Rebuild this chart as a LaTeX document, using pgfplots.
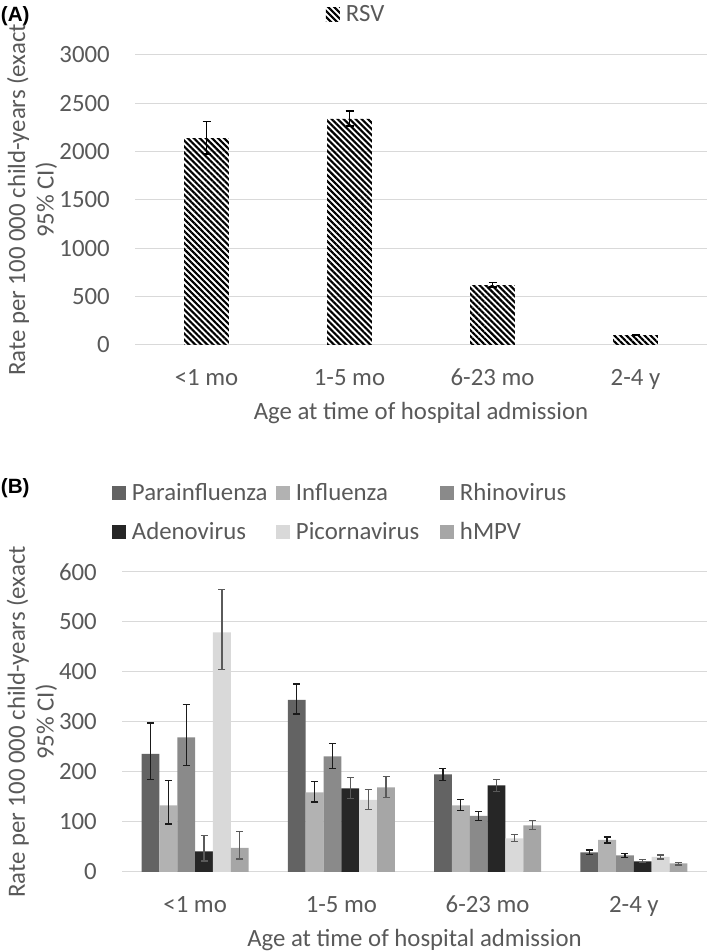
\documentclass[border=0pt]{standalone}
\usepackage{pgfplots}
\pgfplotsset{compat=1.18}
\usepackage{pgfplotstable}
\usepackage{fontspec}
\setmainfont{Carlito}
\newfontfamily\arialfont{Liberation Sans}
\usetikzlibrary{patterns.meta}

\definecolor{txt}{HTML}{595959}
\definecolor{gridc}{HTML}{D9D9D9}
\definecolor{cPara}{HTML}{636363}
\definecolor{cInfl}{HTML}{B2B2B2}
\definecolor{cRhin}{HTML}{8A8A8A}
\definecolor{cAden}{HTML}{262626}
\definecolor{cPico}{HTML}{D9D9D9}
\definecolor{cHmpv}{HTML}{A6A6A6}
\definecolor{ebk}{HTML}{1A1A1A}
\definecolor{egr}{HTML}{5A5A5A}

\newcommand\cf{\fontsize{18.6}{21.5}\selectfont}

% Panel A: RSV (value, +err, -err)
\pgfplotstableread{
x y ep em
0 2140 170 165
1 2340 80 75
2 620 25 20
3 103 7 5
}\rsv

% Panel B
\pgfplotstableread{
x y ep em
0 236 62 51
1 344 32 28
2 195 12 12
3 39 5 4
}\para
\pgfplotstableread{
x y ep em
0 133 50 37
1 159 22 19
2 133 12 10
3 64 6 6
}\infl
\pgfplotstableread{
x y ep em
0 269 66 56
1 231 26 24
2 112 9 9
3 33 4 4
}\rhin
\pgfplotstableread{
x y ep em
0 41 32 19
1 167 22 20
2 173 12 12
3 21 4 2
}\aden
\pgfplotstableread{
x y ep em
0 479 86 74
1 144 21 19
2 67 8 6
3 30 4 4
}\pico
\pgfplotstableread{
x y ep em
0 48 33 22
1 169 22 20
2 93 10 8
3 17 2 3
}\hmpv

\pgfplotsset{
  sqleg/.style={legend image code/.code={\fill[##1] (0pt,-4.5pt) rectangle (10.5pt,6pt);}},
  common/.style={
    scale only axis,
    enlargelimits=false,
    xmin=-0.5, xmax=3.5,
    xtick={0,1,2,3},
    xticklabels={<1 mo,1-5 mo,6-23 mo,2-4 y},
    axis line style={draw=none},
    major tick length=0pt,
    ymajorgrids,
    grid style={draw=gridc, line width=0.75pt},
    tick label style={font=\cf, text=txt, inner sep=0pt},
    /pgf/number format/assume math mode=true,
    /pgf/number format/1000 sep={},
    yticklabel style={anchor=east, xshift=-18.75pt},
    xticklabel style={anchor=base, yshift=-30.5pt},
    xlabel={Age at time of hospital admission},
    xlabel style={font=\cf, text=txt, at={(axis description cs:0.5,0)}, anchor=base, yshift=-56pt, inner sep=0pt},
    ylabel={Rate per 100 000 child-years (exact\\95\% CI)},
    ylabel style={font=\cf, text=txt, align=center, anchor=center, inner sep=0pt},
    legend style={draw=none, fill=none, inner sep=0pt, outer sep=0pt, font=\cf, text=txt,
      /tikz/every odd column/.style={column sep=4.5pt},
      /tikz/every even column/.style={column sep=0pt},
      row sep=14.25pt},
    legend cell align=left,
  },
  eb/.style={error bars/.cd, y dir=both, y explicit,
    error bar style={#1, line width=0.9pt},
    error mark options={rotate=90, mark size=2.6pt, line width=0.9pt, #1}},
}

\begin{document}
\begin{tikzpicture}
\path[use as bounding box] (0pt,0pt) rectangle (531.75pt,714pt);
\node[anchor=west, inner sep=0pt, font=\arialfont\bfseries\fontsize{15.5}{18}\selectfont] at (0.5pt,702pt) {(A)};
\node[anchor=west, inner sep=0pt, font=\arialfont\bfseries\fontsize{15.5}{18}\selectfont] at (0.5pt,348pt) {(B)};

% ---------- Panel A ----------
\begin{axis}[common,
  at={(101.25pt,455.25pt)}, anchor=south west,
  width=429pt, height=217.5pt,
  ymin=0, ymax=3000, ytick={0,500,...,3000},
  ylabel style={at={(axis description cs:-0.180,0.5)}},
  legend style={at={(0.3339,1.1707)}, anchor=north west,
    nodes={text height=12pt, text depth=3pt, inner sep=0pt}},
]
\addplot[ybar, bar width=33.6pt, bar shift=0pt, draw=none,
  pattern={Lines[angle=-45,distance=3.2pt,line width=1.6pt]}, pattern color=black,
  sqleg,
  error bars/.cd, y dir=both, y explicit,
  error bar style={black, line width=0.9pt},
  error mark options={rotate=90, mark size=3pt, line width=0.9pt, black}]
  table[x=x, y=y, y error plus=ep, y error minus=em]{\rsv};
\addlegendentry{RSV}
\end{axis}

% ---------- Panel B ----------
\begin{axis}[common,
  at={(91.5pt,60pt)}, anchor=south west,
  width=438.75pt, height=225pt,
  ymin=0, ymax=600, ytick={0,100,...,600},
  ybar=0pt, bar width=13.4pt,
  ylabel style={at={(axis description cs:-0.154,0.5)}},
  legend columns=3,
  legend style={at={(-0.0171,1.2917)}, anchor=north west,
    nodes={text width=108pt, text height=12pt, text depth=3pt, inner sep=0pt}},
]
\addplot[fill=cPara, draw=none, sqleg, eb=ebk]
  table[x=x, y=y, y error plus=ep, y error minus=em]{\para};
\addlegendentry{Parainfluenza}
\addplot[fill=cInfl, draw=none, sqleg, eb=ebk]
  table[x=x, y=y, y error plus=ep, y error minus=em]{\infl};
\addlegendentry{Influenza}
\addplot[fill=cRhin, draw=none, sqleg, eb=ebk]
  table[x=x, y=y, y error plus=ep, y error minus=em]{\rhin};
\addlegendentry{Rhinovirus}
\addplot[fill=cAden, draw=none, sqleg, eb=egr]
  table[x=x, y=y, y error plus=ep, y error minus=em]{\aden};
\addlegendentry{Adenovirus}
\addplot[fill=cPico, draw=none, sqleg, eb=egr]
  table[x=x, y=y, y error plus=ep, y error minus=em]{\pico};
\addlegendentry{Picornavirus}
\addplot[fill=cHmpv, draw=none, sqleg, eb=egr]
  table[x=x, y=y, y error plus=ep, y error minus=em]{\hmpv};
\addlegendentry{hMPV}
\end{axis}
\end{tikzpicture}
\end{document}
